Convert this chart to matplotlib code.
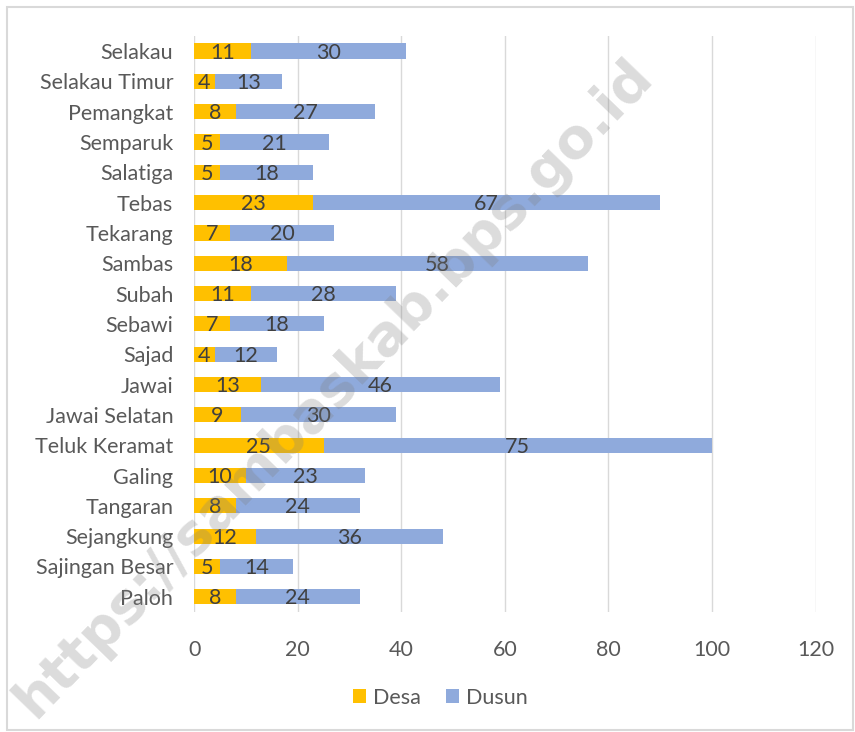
import matplotlib.pyplot as plt
import matplotlib.patches as mpatches
import numpy as np

# Data (top to bottom as shown)
kecamatan = ['Selakau', 'Selakau Timur', 'Pemangkat', 'Semparuk', 'Salatiga',
             'Tebas', 'Tekarang', 'Sambas', 'Subah', 'Sebawi', 'Sajad', 'Jawai',
             'Jawai Selatan', 'Teluk Keramat', 'Galing', 'Tangaran', 'Sejangkung',
             'Sajingan Besar', 'Paloh']
desa = [11, 4, 8, 5, 5, 23, 7, 18, 11, 7, 4, 13, 9, 25, 10, 8, 12, 5, 8]
dusun = [30, 13, 27, 21, 18, 67, 20, 58, 28, 18, 12, 46, 30, 75, 23, 24, 36, 14, 24]

plt.rcParams['font.family'] = ['Lato', 'DejaVu Sans']
fs = 15.5

fig = plt.figure(figsize=(8.55, 7.32), dpi=100)
ax = fig.add_axes([0.227, 0.164, 0.727, 0.787])

# outer chart frame
fig.patches.append(mpatches.Rectangle((0.008, 0.003), 0.99, 0.987, transform=fig.transFigure,
                                      fill=False, edgecolor='#d9d9d9', linewidth=1.5))

y = np.arange(len(kecamatan))
c_desa = '#FFC000'
c_dusun = '#8FAADC'
h = 0.5
ax.barh(y, desa, height=h, color=c_desa, label='Desa', zorder=2)
ax.barh(y, dusun, left=desa, height=h, color=c_dusun, label='Dusun', zorder=2)

for yi, d, u in zip(y, desa, dusun):
    ax.text(d / 2, yi + 0.05, str(d), ha='center', va='center', fontsize=fs, color='#404040', zorder=3)
    ax.text(d + u / 2, yi + 0.05, str(u), ha='center', va='center', fontsize=fs, color='#404040', zorder=3)

ax.set_yticks(y)
ax.set_yticklabels(kecamatan, fontsize=fs, color='#595959')
ax.set_ylim(len(kecamatan) - 0.5, -0.5)
ax.set_xlim(0, 120)
ax.set_xticks(range(0, 121, 20))
ax.tick_params(axis='x', labelsize=fs, labelcolor='#595959', length=0, pad=20)
ax.tick_params(axis='y', length=0, pad=15)
ax.grid(axis='x', color='#d9d9d9', linewidth=1, zorder=0)
for s in ax.spines.values():
    s.set_visible(False)

ax.legend(loc='center', bbox_to_anchor=(0.515, 0.047), bbox_transform=fig.transFigure,
          ncol=2, frameon=False, fontsize=fs, handlelength=0.6, handleheight=0.6,
          handletextpad=0.3, columnspacing=1.2, labelcolor='#595959')

# watermark
fig.text(0.39, 0.47, 'https://sambaskab.bps.go.id', rotation=46, fontsize=40,
         fontweight='bold', color='#808080', alpha=0.28, ha='center', va='center',
         family='DejaVu Sans', zorder=10)

fig.savefig('out.png', dpi=100)
